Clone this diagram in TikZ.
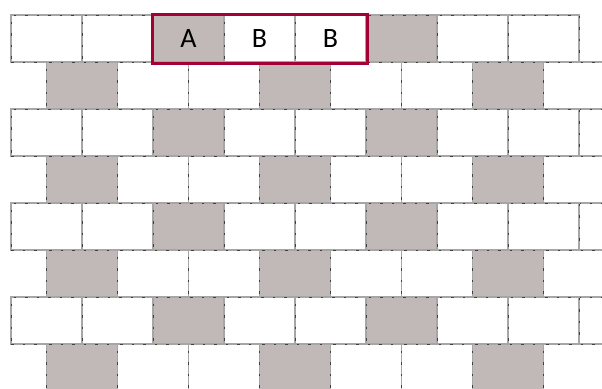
\documentclass[tikz,border=0pt]{standalone}
\usepackage{fontspec}
\newfontfamily\tagfont{Carlito}
\usepackage{tikz}
\usetikzlibrary{positioning, fit}

\definecolor{brickgray}{RGB}{192,185,183}
\definecolor{framered}{RGB}{165,0,52}

\begin{document}
\begin{tikzpicture}[
    x=1pt, y=-1pt,
    brick/.style={rectangle, draw=gray!70, line width=1.4pt, fill=white, minimum width=71pt, minimum height=47pt, inner sep=0pt, outer sep=0pt,
        postaction={draw=black!75, line width=0.6pt, dash pattern=on 2.5pt off 9pt}},
    graybrick/.style={brick, fill=brickgray},
    tag/.style={font=\tagfont\fontsize{28}{32}\selectfont, text=black},
    frame/.style={draw=framered, line width=3pt, inner sep=1pt}
]
    \path[use as bounding box] (0,0) rectangle (602,388);
    \begin{scope}
        \clip (0,0) rectangle (602,388);
        % Bricks
        \foreach \r in {0,...,7} {
            \pgfmathsetmacro\xs{mod(\r,2)*35.5+11}
            \foreach \c in {0,...,7} {
                \pgfmathtruncatemacro\g{mod(\c+1-mod(\r,2),3)}
                \ifnum\g=0 \def\kind{graybrick}\else\def\kind{brick}\fi
                \node[\kind, anchor=north west] (brick-\r-\c) at ({\xs+71*\c}, {15+47*\r}) {};
            }
        }
    \end{scope}

    % Labels
    \node[tag] (tagA) at (brick-0-2) {A};
    \node[tag] (tagB1) at (brick-0-3) {B};
    \node[tag] (tagB2) at (brick-0-4) {B};

    % Frame
    \node[fit=(brick-0-2)(brick-0-4), frame] (pair) {};

\end{tikzpicture}
\end{document}
